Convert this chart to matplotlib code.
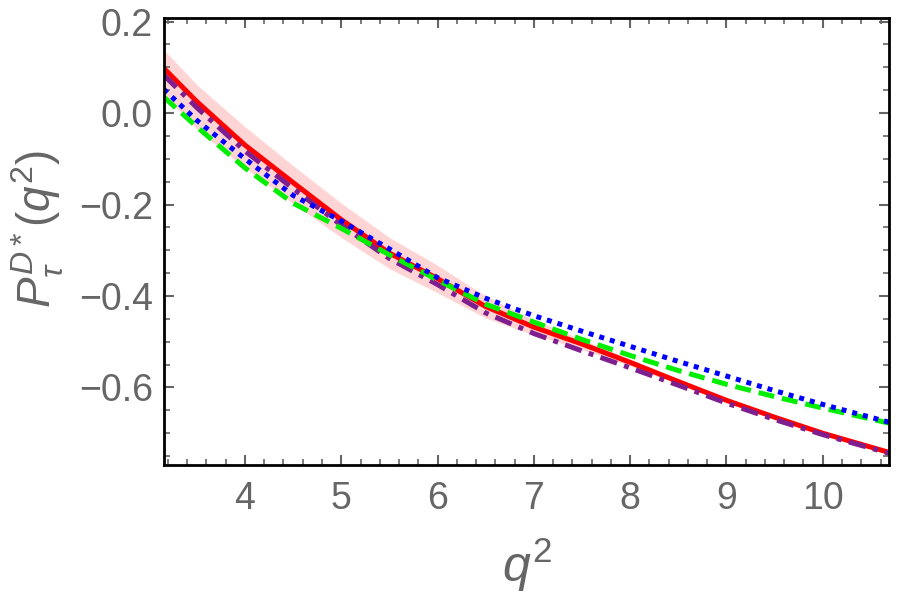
import matplotlib
matplotlib.use("Agg")
import matplotlib.pyplot as plt
from matplotlib.ticker import MultipleLocator

plt.rcParams["font.family"] = ["Liberation Sans", "DejaVu Sans"]
plt.rcParams["mathtext.fontset"] = "custom"
plt.rcParams["mathtext.rm"] = "Liberation Sans"
plt.rcParams["mathtext.it"] = "Liberation Sans:italic"

# --- values ---
q2 = [3.157, 3.5, 4.0, 4.5, 5.0, 5.5, 6.0, 6.5, 7.0, 7.5, 8.0, 8.5, 9.0, 9.5, 10.0, 10.69]

p_red = [0.098, 0.025, -0.070, -0.152, -0.233, -0.306, -0.362, -0.423, -0.468, -0.505,
         -0.545, -0.587, -0.628, -0.665, -0.700, -0.742]
band_hi = [0.138, 0.062, -0.030, -0.115, -0.197, -0.272, -0.333, -0.400, -0.452, -0.495,
           -0.538, -0.582, -0.624, -0.662, -0.698, -0.741]
band_lo = [0.040, -0.035, -0.120, -0.198, -0.272, -0.340, -0.393, -0.448, -0.485, -0.517,
           -0.553, -0.593, -0.632, -0.668, -0.702, -0.744]
p_purple = [0.083, 0.012, -0.083, -0.165, -0.245, -0.318, -0.375, -0.437, -0.482, -0.520,
            -0.557, -0.595, -0.634, -0.670, -0.703, -0.744]
p_blue = [0.052, -0.016, -0.100, -0.180, -0.236, -0.297, -0.360, -0.405, -0.443, -0.477,
          -0.510, -0.543, -0.575, -0.607, -0.637, -0.676]
p_green = [0.035, -0.030, -0.120, -0.197, -0.252, -0.310, -0.365, -0.418, -0.457, -0.495,
           -0.530, -0.563, -0.593, -0.620, -0.645, -0.678]

grey = "#666666"

fig = plt.figure(figsize=(9, 5.98), dpi=100)
ax = fig.add_axes([0.182, 0.222, 0.806, 0.748])

ax.fill_between(q2, band_lo, band_hi, color="#ffd4d4", lw=0)
ax.plot(q2, p_red, color="#ff0000", lw=3.6, solid_capstyle="butt")
ax.plot(q2, p_purple, color="#7f1f8f", lw=3.6, dashes=(3.5, 1.5, 1, 1.5))
ax.plot(q2, p_green, color="#00ee00", lw=3.6, dashes=(3.2, 1.6))
ax.plot(q2, p_blue, color="#0000ff", lw=3.6, dashes=(1, 1.2))

ax.set_xlim(3.157, 10.69)
ax.set_ylim(-0.77, 0.208)
ax.xaxis.set_major_locator(MultipleLocator(1))
ax.xaxis.set_minor_locator(MultipleLocator(0.2))
ax.yaxis.set_major_locator(MultipleLocator(0.2))
ax.yaxis.set_minor_locator(MultipleLocator(0.05))
ax.yaxis.set_major_formatter(lambda v, p: f"{v:.1f}".replace("-", "\u2212"))

ax.tick_params(which="both", direction="in", top=True, right=True, color=grey,
               labelcolor=grey, labelsize=27)
ax.tick_params(which="major", length=7, width=1.5)
ax.tick_params(which="minor", length=4, width=1.2)
ax.tick_params(axis="x", pad=11)
ax.tick_params(axis="y", pad=8)
for s in ax.spines.values():
    s.set_linewidth(2)

ax.set_xlabel(r"$q^2$", fontsize=36, color=grey, labelpad=14)
fig.text(0.042, 0.617, r"$P_\tau^{D*}$($q^2$)", fontsize=33, color=grey,
         rotation=90, ha="center", va="center")

fig.savefig("out.png", dpi=100)
